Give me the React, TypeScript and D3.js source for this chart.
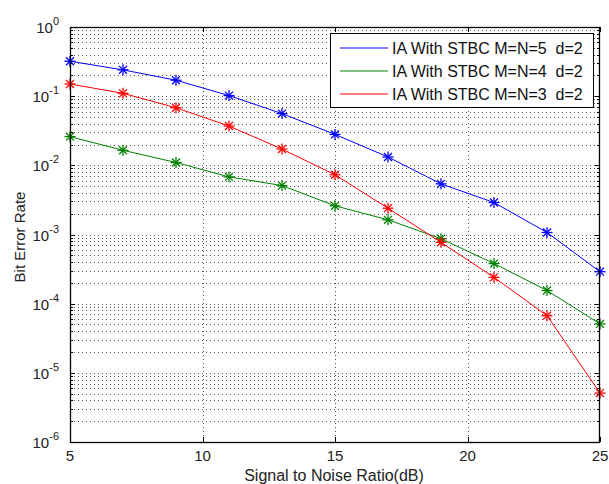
import React from "react";
import * as d3 from "d3";

const snr = [5, 7, 9, 11, 13, 15, 17, 19, 21, 23, 25];
const berM5 = [0.32, 0.24, 0.17, 0.102, 0.056, 0.028, 0.0132, 0.0054, 0.0029, 0.00107, 0.00029];
const berM4 = [0.026, 0.0165, 0.011, 0.0068, 0.0051, 0.0026, 0.00163, 0.00087, 0.00038, 0.000155, 0.000051];
const berM3 = [0.15, 0.11, 0.068, 0.037, 0.0172, 0.0073, 0.0024, 0.00077, 0.00024, 0.000067, 0.0000051];
const seriesNames = [
  "IA With STBC M=N=5  d=2",
  "IA With STBC M=N=4  d=2",
  "IA With STBC M=N=3  d=2",
];
const seriesColors = ["#0000ff", "#008000", "#ff0000"];
const xTicks = [5, 10, 15, 20, 25];
const yExponents = [0, -1, -2, -3, -4, -5, -6];

const W = 609;
const H = 484;
const left = 70;
const right = 600;
const top = 27;
const bottom = 442;
const font = "'Liberation Sans', Arial, sans-serif";

function Star({ x, y, color }: { x: number; y: number; color: string }) {
  const r = 5.5;
  const d = r * 0.72;
  return (
    <g stroke={color} strokeWidth={1.3}>
      <line x1={x - r} y1={y} x2={x + r} y2={y} />
      <line x1={x} y1={y - r} x2={x} y2={y + r} />
      <line x1={x - d} y1={y - d} x2={x + d} y2={y + d} />
      <line x1={x - d} y1={y + d} x2={x + d} y2={y - d} />
    </g>
  );
}

export default function App() {
  const x = d3.scaleLinear().domain([5, 25]).range([left, right]);
  const y = d3.scaleLog().domain([1e-6, 1]).range([bottom, top]);
  const all = [berM5, berM4, berM3];
  const line = d3
    .line<number>()
    .x((_, i) => x(snr[i]))
    .y((v) => y(v));

  const minor: number[] = [];
  for (let e = -6; e < 0; e++) {
    for (let m = 2; m <= 9; m++) minor.push(m * Math.pow(10, e));
  }
  const dots = "1,3";
  const py = (v: number) => Math.round(y(v)) + 0.5;
  const px = (v: number) => Math.round(x(v)) + 0.5;

  return (
    <svg width={W} height={H} style={{ position: "absolute", left: 0, top: 0, background: "#fff" }}>
      <rect x={0} y={0} width={W} height={H} fill="#fff" />
      {/* dotted grid */}
      <g stroke="#555" strokeWidth={1} strokeDasharray={dots}>
        {minor.map((v, i) => (
          <line key={"m" + i} x1={left} x2={right} y1={py(v)} y2={py(v)} />
        ))}
        {yExponents.slice(1, -1).map((e) => (
          <line key={"M" + e} x1={left} x2={right} y1={py(Math.pow(10, e))} y2={py(Math.pow(10, e))} />
        ))}
        {xTicks.slice(1, -1).map((t) => (
          <line key={"v" + t} x1={px(t)} x2={px(t)} y1={top} y2={bottom} />
        ))}
      </g>
      {/* tick marks */}
      <g stroke="#000" strokeWidth={1}>
        {minor.map((v, i) => (
          <g key={"mt" + i}>
            <line x1={left} x2={left + 3} y1={py(v)} y2={py(v)} />
            <line x1={right - 3} x2={right} y1={py(v)} y2={py(v)} />
          </g>
        ))}
        {yExponents.map((e) => (
          <g key={"Mt" + e}>
            <line x1={left} x2={left + 5} y1={py(Math.pow(10, e))} y2={py(Math.pow(10, e))} />
            <line x1={right - 5} x2={right} y1={py(Math.pow(10, e))} y2={py(Math.pow(10, e))} />
          </g>
        ))}
        {xTicks.map((t) => (
          <g key={"xt" + t}>
            <line x1={px(t)} x2={px(t)} y1={bottom} y2={bottom - 5} />
            <line x1={px(t)} x2={px(t)} y1={top} y2={top + 5} />
          </g>
        ))}
      </g>
      {/* series */}
      {all.map((vals, si) => (
        <g key={"s" + si}>
          <path d={line(vals) ?? ""} fill="none" stroke={seriesColors[si]} strokeWidth={1} />
          {vals.map((v, i) => (
            <Star key={i} x={x(snr[i])} y={y(v)} color={seriesColors[si]} />
          ))}
        </g>
      ))}
      {/* axes box */}
      <rect x={left + 0.5} y={top + 0.5} width={right - left - 1} height={bottom - top} fill="none" stroke="#000" strokeWidth={1.3} />
      {/* tick labels */}
      <g fontFamily={font} fontSize={15} fill="#222">
        {xTicks.map((t) => (
          <text key={"xl" + t} x={x(t)} y={bottom + 19} textAnchor="middle">
            {t}
          </text>
        ))}
        {yExponents.map((e) => (
          <text key={"yl" + e} x={left - 11} y={y(Math.pow(10, e)) + 6} textAnchor="end">
            10
            <tspan fontSize={11} dy={-8}>
              {e}
            </tspan>
          </text>
        ))}
      </g>
      {/* axis titles */}
      <text x={334} y={481} textAnchor="middle" fontFamily={font} fontSize={16} fill="#222">
        Signal to Noise Ratio(dB)
      </text>
      <text
        transform={`translate(25, 237) rotate(-90)`}
        textAnchor="middle"
        fontFamily={font}
        fontSize={15}
        fill="#222"
      >
        Bit Error Rate
      </text>
      {/* legend */}
      <g>
        <rect x={330.5} y={33.5} width={263} height={74} fill="#fff" stroke="#000" strokeWidth={1} />
        {seriesNames.map((name, i) => (
          <g key={"lg" + i}>
            <line x1={340} x2={388} y1={48 + i * 23} y2={48 + i * 23} stroke={seriesColors[i]} strokeWidth={1} />
            <text x={392} y={54 + i * 23} fontFamily={font} fontSize={16} fill="#111" xmlSpace="preserve">
              {name}
            </text>
          </g>
        ))}
      </g>
    </svg>
  );
}
